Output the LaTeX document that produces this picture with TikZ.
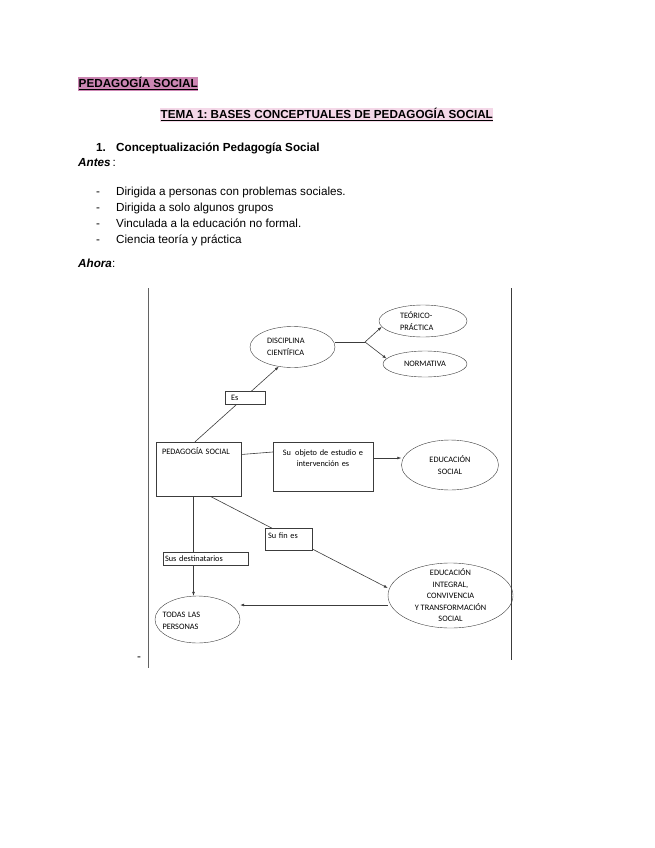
\documentclass[tikz,border=0pt]{standalone}
\usepackage{fontspec}
\setmainfont{Liberation Sans}
\newfontfamily\diagfont{Carlito}
\usepackage{tikz}
\usetikzlibrary{positioning, arrows.meta, shapes.geometric, backgrounds}
\definecolor{mauvehl}{HTML}{CC86B3}
\definecolor{pinkhl}{HTML}{F4D8E8}
\definecolor{linegrey}{HTML}{3C3C3C}
\frenchspacing

\begin{document}
\begin{tikzpicture}[x=1pt, y=1pt,
  every node/.style={font=\diagfont\fontsize{8.3}{11.5}\selectfont, text=black, inner sep=0pt},
  doctext/.style={font=\fontsize{11.7}{14}\selectfont, anchor=base west},
  bolddoc/.style={doctext, font=\fontsize{11.7}{14}\selectfont\bfseries},
  heading/.style={bolddoc, inner xsep=0.5pt, inner ysep=1pt},
  bubble/.style={draw=linegrey, ellipse, align=center},
  box/.style={draw=linegrey, fill=white, align=left},
  link/.style={-{Latex[length=4pt, width=3pt]}, draw=linegrey, line width=0.6pt},
  plain/.style={draw=linegrey, line width=0.6pt},
]
  \useasboundingbox (0,0) rectangle (655,-848);

  \node[heading, fill=mauvehl] (titulo) at (78,-88) {\underline{PEDAGOGÍA SOCIAL}};
  \node[heading, fill=pinkhl] (tema) at (160,-119) {\underline{TEMA 1: BASES CONCEPTUALES DE PEDAGOGÍA SOCIAL}};
  \node[bolddoc] (secnum) at (96,-151) {1.};
  \node[bolddoc] (sectitle) at (116,-151) {Conceptualización Pedagogía Social};
  \node[doctext] (previo) at (78,-166) {\textbf{\textit{Antes}}\,:};

  \node[doctext] (dash1) at (96,-195) {-};
  \node[doctext] (item1) at (116,-195) {Dirigida a personas con problemas sociales.};
  \node[doctext] (dash2) at (96,-211) {-};
  \node[doctext] (item2) at (116,-211) {Dirigida a solo algunos grupos};
  \node[doctext] (dash3) at (96,-227) {-};
  \node[doctext] (item3) at (116,-227) {Vinculada a la educación no formal.};
  \node[doctext] (dash4) at (96,-243) {-};
  \node[doctext] (item4) at (116,-243) {Ciencia teoría y práctica};

  \node[doctext] (ahora) at (78,-267) {\textbf{\textit{Ahora}}:};

  \draw[draw=linegrey!80, line width=0.8pt] (148,-288) -- (148,-668);
  \draw[draw=linegrey, line width=1.3pt] (511.5,-288) -- (511.5,-660);
  \node[doctext] (trail) at (137,-660) {-};

  \node[bubble, minimum width=85pt, minimum height=41pt, text width=51pt, align=left] (disc) at (292.5,-347) {DISCIPLINA\\CIENTÍFICA};
  \node[bubble, minimum width=88pt, minimum height=32pt, text width=46pt, align=left] (teorico) at (423,-321) {TEÓRICO-\\PRÁCTICA};
  \node[bubble, minimum width=84pt, minimum height=26pt] (normativa) at (425,-364) {NORMATIVA};
  \node[bubble, minimum width=97pt, minimum height=50pt] (edsocial) at (450,-465) {EDUCACIÓN\\SOCIAL};
  \node[bubble, minimum width=125pt, minimum height=65pt, inner ysep=-10pt] (edintegral) at (450.5,-595.5) {EDUCACIÓN\\INTEGRAL,\\CONVIVENCIA\\Y TRANSFORMACIÓN\\SOCIAL};
  \node[bubble, minimum width=85pt, minimum height=47pt, text width=70pt, inner xsep=-7pt, align=left, text depth=9pt] (todas) at (197.5,-619.5) {TODAS LAS\\PERSONAS};

  \node[box, minimum width=85pt, inner xsep=6pt, inner ysep=2pt, text width=73pt, text height=10.5pt, text depth=39.5pt] (ps) at (198.5,-469) {PEDAGOGÍA SOCIAL};
  \node[box, align=center, inner xsep=3pt, inner ysep=2pt, text width=94pt, text height=11pt, text depth=34pt] (objeto) at (323,-466.5) {Su\enspace objeto de estudio e\\intervención es};
  \node[box, minimum height=13pt, inner xsep=6pt, text width=28pt] (es) at (245,-397.5) {Es};
  \node[box, inner xsep=3pt, inner ysep=2pt, text width=41pt, text height=8.5pt, text depth=9.5pt] (sufin) at (288.5,-539) {Su fin es};
  \node[box, minimum height=13pt, inner xsep=2pt, text width=81pt] (destin) at (205.5,-558.5) {Sus destinatarios};

  \coordinate (split) at (365,-342);

  \begin{scope}[on background layer]
    \draw[link] ([xshift=-3.5pt]ps.north) -- (disc.235);
    \draw[plain] ([yshift=5pt]disc.east) -- (split);
    \draw[link] (split) -- (teorico.188);
    \draw[link] (split) -- (normativa.172);
    \draw[plain] ([yshift=14.5pt]ps.east) -- ([yshift=14.5pt]objeto.west);
    \draw[link] ([yshift=8.5pt]objeto.east) -- ([yshift=8.5pt]objeto.east -| edsocial.west);
    \draw[link] ([xshift=-5pt]ps.south) -- ([xshift=-5pt]ps.south |- todas.north);
    \draw[link] ([xshift=11.5pt]ps.south) -- ([yshift=7.5pt]edintegral.west);
    \draw[link] ([yshift=-9.5pt]edintegral.west) -- ([yshift=-9.5pt]edintegral.west -| todas.east);
  \end{scope}
\end{tikzpicture}
\end{document}
